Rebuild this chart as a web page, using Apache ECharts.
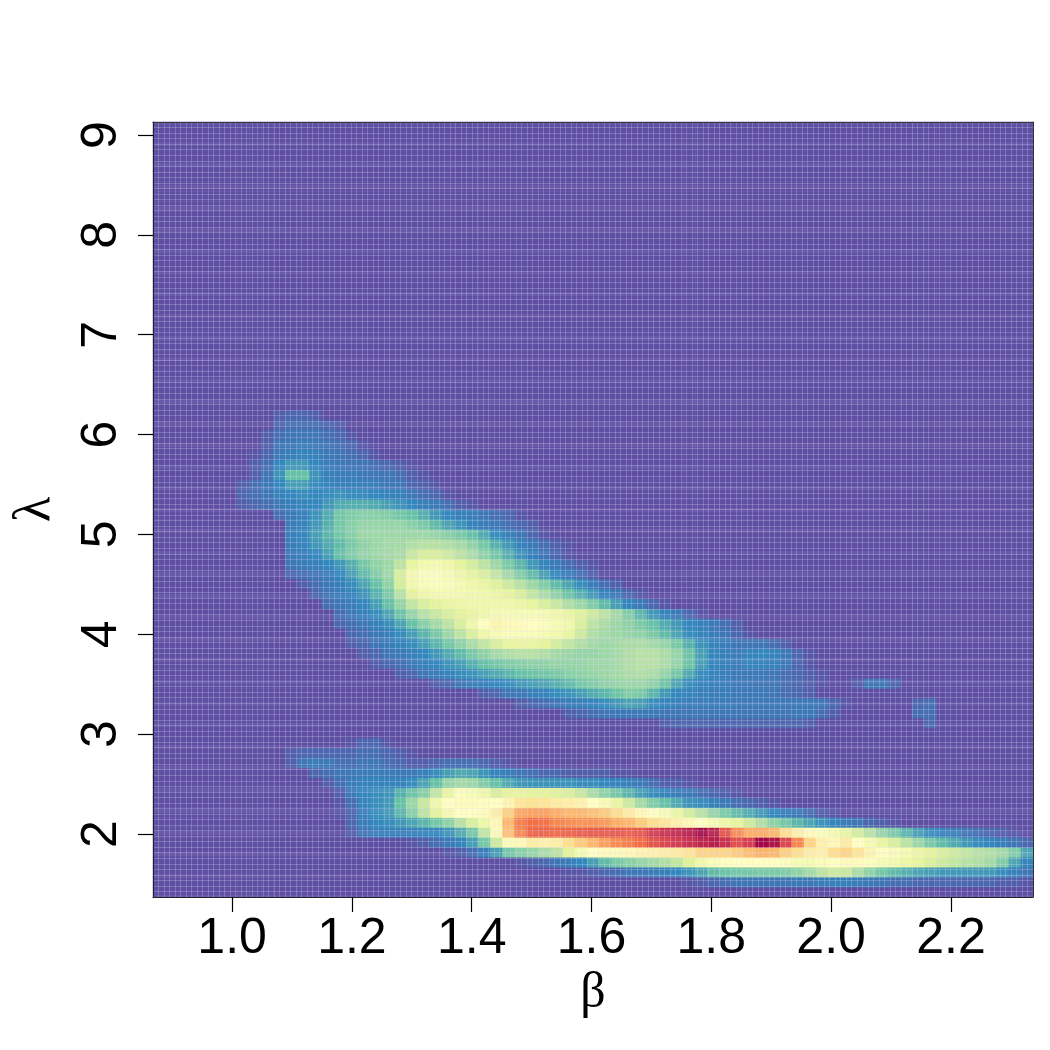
<!DOCTYPE html>
<html>
<head>
<meta charset="utf-8">
<style>html,body{margin:0;padding:0;background:#fff}#c{width:1050px;height:1050px}</style>
<script src="https://cdn.jsdelivr.net/npm/echarts@6/dist/echarts.min.js"></script>
</head>
<body>
<div id="c"></div>
<script>
// Axis ticks
const betaTicks = [1.0, 1.2, 1.4, 1.6, 1.8, 2.0, 2.2];
const lambdaTicks = [2, 3, 4, 5, 6, 7, 8, 9];
const betaRange = [0.868, 2.337];
const lambdaRange = [1.37, 9.13];
const colCount = 73, rowCount = 78;
// Spectral ramp, one stop per 5 units of density
const spectral = ['#5E4FA2','#3F77B4','#3288BD','#4CA5B1','#66C2A5','#88D0A5','#ABDDA4','#C8E99E','#E6F598','#F2FAAB','#FFFFBF','#FEEFA5','#FEE08B','#FDC776','#FDAE61','#F88D52','#F46D43','#E55649','#D53E4F','#B92049','#9E0142'];

// Density (0-100). Each segment: [row, first column, values...]
const r48=[48,10,2,3,3,2];
const r47=[47,10,3,4,4,4,3,2];
const r46=[46,9,2,4,5,5,5,4,3,1];
const r45=[45,9,2,5,6,7,6,5,4,3,1];
const r44=[44,8,1,3,6,8,9,8,6,5,4,3,1];
const r43=[43,8,2,4,10,13,13,10,7,6,5,5,4,3,2,1];
const r42=[42,8,2,5,12,20,20,12,8,7,7,6,5,5,4,2,1];
const r41=[41,7,2,4,6,10,14,14,11,9,8,8,8,7,6,5,3,2,1];
const r40=[40,7,3,4,5,8,10,11,10,11,12,11,11,10,9,8,6,4,3,1];
const r39=[39,7,2,3,4,6,8,9,10,13,16,17,17,16,14,12,10,8,6,4,2,1];
const r38=[38,10,4,6,8,12,16,22,24,25,25,24,22,20,17,13,10,8,7,5,4,3,1];
const r37=[37,11,7,9,13,17,22,25,27,27,27,27,25,23,19,15,12,9,7,6,4,3,2];
const r36=[36,11,8,10,14,18,22,25,28,28,28,28,28,28,27,25,23,20,16,11,8,5,3,1];
const r35=[35,11,7,9,13,16,19,23,26,28,29,29,31,32,32,31,29,26,22,17,13,9,6,4,2,1];
const r34=[34,11,6,8,10,14,20,24,27,28,29,30,35,38,38,36,33,30,26,22,17,12,8,5,3,1];
const r33=[33,11,5,7,8,10,13,17,22,26,28,33,41,45,46,44,40,37,33,28,23,18,13,9,6,4,2,1];
const r32=[32,11,3,4,5,7,10,14,19,24,28,38,46,49,49,47,44,41,38,34,29,24,19,14,10,7,4,2];
const r31=[31,12,2,4,6,8,11,15,20,26,37,45,48,49,48,46,44,42,39,36,32,28,24,19,15,11,7,4,2];
const r30=[30,13,3,5,7,9,12,17,23,32,40,44,46,46,46,45,44,43,41,38,34,30,26,21,17,13,9,6,3,1];
const r29=[29,14,4,5,7,10,14,20,27,34,38,40,42,43,44,44,44,44,43,41,38,35,31,28,24,19,14,9,6,3,1];
const r28=[28,15,4,6,8,11,15,21,27,32,35,38,40,42,44,46,47,47,47,46,44,42,39,36,33,29,24,18,13,9,6,3,1];
const r27=[27,15,3,4,6,8,11,15,20,25,29,33,38,44,50,53,52,51,50,49,47,44,38,33,30,28,26,23,20,16,13,10,8,6,4,2];
const r26=[26,16,3,4,6,8,11,14,18,23,28,33,38,44,47,48,48,48,47,45,42,36,31,29,28,27,26,23,19,15,11,9,7,5,3,1];
const r25=[25,16,2,3,5,7,9,11,14,18,22,26,30,34,38,41,42,42,40,37,34,31,29,28,29,30,30,29,27,23,17,12,9,7,5,5,5,4,2];
const r24=[24,17,2,3,5,6,8,10,13,16,19,23,26,29,31,32,32,31,29,28,27,27,28,29,31,32,32,30,27,21,14,10,8,7,9,10,9,6,3,1];
const r23=[23,18,2,3,4,6,8,10,12,14,17,20,22,24,25,26,26,27,27,27,28,28,29,31,32,32,30,27,21,14,10,8,7,9,9,8,6,3,1];
const r22=[22,20,2,3,5,7,9,11,12,14,16,18,20,21,22,23,25,26,27,28,29,30,31,30,27,22,16,11,9,7,6,6,6,5,4,3,2,1];
const r21=[21,23,2,3,5,7,8,10,11,13,14,15,17,19,22,24,26,27,28,28,26,21,15,11,9,8,7,6,6,5,5,4,3,2,1];
const r21b=[21,58,2,5,5,3];
const r20=[20,27,2,3,5,6,8,9,11,12,14,16,18,21,24,23,18,13,10,9,8,7,7,6,6,6,5,4,3,2];
const r19=[19,30,2,3,4,5,7,8,9,11,13,15,14,11,9,8,7,7,7,7,6,6,6,6,6,6,6,5,3,1];
const r19b=[19,63,3,4];
const r18=[18,34,2,3,4,5,6,6,6,6,5,5,5,5,5,5,5,5,5,5,5,6,6,4,2];
const r18b=[18,63,4,4];
const r17=[17,42,2,3,3,3,3,3,3,3,3,3,3,3,2];
const r17b=[17,64,3];
const r15=[15,16,1,3,3,1];
const r14=[14,11,2,3,3,3,3,3,4,4,3,2,1];
const r13=[13,11,2,5,7,6,4,4,5,5,4,3,2,2,3,4,4,4,3,2,1];
const r12=[12,13,3,4,5,6,7,7,7,6,6,8,11,14,16,15,12,9,7,5,4,3,3,2,2,2,2,1,1];
const r11=[11,14,2,4,7,9,9,9,9,11,15,20,27,29,28,24,20,16,13,12,12,12,12,11,11,10,9,8,6,4,2,2,1];
const r10=[10,15,2,6,10,11,12,17,21,25,34,42,49,47,44,38,40,41,40,40,39,38,35,30,26,22,18,14,11,9,7,6,4,3,2,1];
const r9=[9,15,1,4,9,11,13,20,28,35,44,50,51,51,49,50,53,58,59,58,56,55,54,50,47,42,36,29,24,20,16,12,11,8,6,4,3,2,1];
const r8=[8,15,1,3,8,11,13,18,25,33,40,46,50,50,51,55,63,71,72,72,70,68,68,66,64,60,56,52,50,47,43,37,32,27,23,19,16,13,10,8,6,4,2,1];
const r7=[7,16,3,7,10,11,13,15,18,22,26,32,38,44,52,68,77,80,79,76,75,74,74,73,70,68,64,60,57,54,52,50,47,44,41,36,31,26,22,18,15,12,9,7,5,3,2,1];
const r6=[6,16,2,5,7,8,8,8,9,10,12,16,22,34,48,66,76,82,82,81,82,83,84,84,84,83,85,90,92,93,95,98,95,85,75,70,70,68,60,54,51,49,46,42,37,32,27,23,18,14,11,9,7,5,4,3,2,1];
const r5=[5,21,1,2,4,6,9,14,22,36,48,52,55,54,55,60,64,68,72,75,77,80,85,88,90,92,94,95,92,86,90,99,97,88,76,62,54,52,56,50,46,42,38,33,28,23,19,16,13,11,9,7,5,3];
const r4=[4,24,1,2,4,8,14,22,25,27,30,33,40,46,50,51,51,52,53,54,55,56,58,62,62,62,64,67,69,68,63,60,55,54,60,62,58,53,50,48,46,43,40,38,36,34,32,31,29,24,15,9];
const r3=[3,30,1,2,3,5,7,10,14,19,23,25,27,29,31,34,39,44,48,50,50,50,50,50,49,47,46,48,50,51,51,49,47,45,43,41,38,36,34,32,31,29,24,15,9];
const r2=[2,34,1,1,2,3,4,5,6,7,8,10,12,15,19,21,22,22,23,23,24,26,29,33,36,35,30,26,22,19,17,15,14,13,13,13,13,13,11,8,5];
const r1=[1,44,1,2,3,4,5,5,5,5,5,6,6,7,8,8,7,6,5,4,4,3,3,3,3,3,3,3,2,2,1];

const segments=[r48,r47,r46,r45,r44,r43,r42,r41,r40,r39,r38,r37,r36,r35,r34,r33,r32,r31,r30,r29,r28,r27,r26,r25,r24,r23,r22,r21,r21b,r20,r19,r19b,r18,r18b,r17,r17b,r15,r14,r13,r12,r11,r10,r9,r8,r7,r6,r5,r4,r3,r2,r1];

const cols=Array.from({length:colCount},(_,k)=>String(k));
const rows=Array.from({length:rowCount},(_,j)=>String(j));
const lookup={};
segments.forEach(s=>{for(let i=2;i<s.length;i++){lookup[s[0]+'_'+(s[1]+i-2)]=s[i];}});
const cells=[];
for(let j=0;j<rowCount;j++){for(let k=0;k<colCount;k++){cells.push([k,j,lookup[j+'_'+k]||0]);}}

const fineLine={show:true,lineStyle:{color:'rgba(225,220,255,0.25)',width:1}};
const bandLine={show:true,lineStyle:{color:'rgba(225,220,255,0.08)',width:4}};
const chart=echarts.init(document.getElementById('c'),null,{renderer:'canvas'});
const FONT='"Liberation Sans",Arial,Helvetica,sans-serif';
const tickStyle={color:'#000',width:1.2};
chart.setOption({
  animation:false,
  backgroundColor:'#fff',
  grid:{left:153,top:122,width:880,height:775,containLabel:false,outerBoundsMode:'none'},
  tooltip:{show:false},
  visualMap:{show:false,min:0,max:100,dimension:2,seriesIndex:0,inRange:{color:spectral}},
  xAxis:[
    {type:'value',position:'bottom',min:betaRange[0],max:betaRange[1],z:6,
     splitLine:{show:false},
     axisLine:{show:true,onZero:false,lineStyle:{color:'#222',width:1}},
     axisTick:{show:true,length:15,customValues:betaTicks,lineStyle:tickStyle},
     axisLabel:{show:true,customValues:betaTicks,margin:17,fontSize:50,color:'#000',fontFamily:FONT,formatter:v=>v.toFixed(1),hideOverlap:false,showMinLabel:true,showMaxLabel:true},
     name:'\u03B2',nameLocation:'middle',nameGap:64,nameTextStyle:{fontSize:50,color:'#000',fontFamily:'"Liberation Serif",serif'}},
    {type:'value',position:'top',min:0,max:160,interval:1,z:5,
     splitLine:fineLine,
     axisLine:{show:true,onZero:false,lineStyle:{color:'#333',width:1}},
     axisTick:{show:false},axisLabel:{show:false}},
    {type:'category',data:cols,show:false,boundaryGap:true}
  ],
  yAxis:[
    {type:'value',position:'left',min:lambdaRange[0],max:lambdaRange[1],z:6,
     splitLine:{show:false},
     axisLine:{show:true,onZero:false,lineStyle:{color:'#222',width:1}},
     axisTick:{show:true,length:15,customValues:lambdaTicks,lineStyle:tickStyle},
     axisLabel:{show:true,customValues:lambdaTicks,margin:26,rotate:90,fontSize:50,color:'#000',fontFamily:FONT,formatter:v=>String(v),hideOverlap:false,showMinLabel:true,showMaxLabel:true},
     name:'\u03BB',nameLocation:'middle',nameGap:92,nameRotate:90,nameTextStyle:{fontSize:52,color:'#000',fontFamily:'"Liberation Serif",serif'}},
    {type:'value',position:'right',min:0,max:140,interval:1,z:5,
     splitLine:fineLine,
     axisLine:{show:true,onZero:false,lineStyle:{color:'#333',width:1}},
     axisTick:{show:false},axisLabel:{show:false}},
    {type:'category',data:rows,show:false,boundaryGap:true},
    {type:'value',position:'right',min:0,max:36,interval:1,z:5,
     splitLine:bandLine,
     axisLine:{show:false},axisTick:{show:false},axisLabel:{show:false}}
  ],
  series:[{type:'heatmap',xAxisIndex:2,yAxisIndex:2,data:cells,progressive:0,itemStyle:{borderWidth:0},emphasis:{disabled:true},z:2}]
});
</script>
</body>
</html>
